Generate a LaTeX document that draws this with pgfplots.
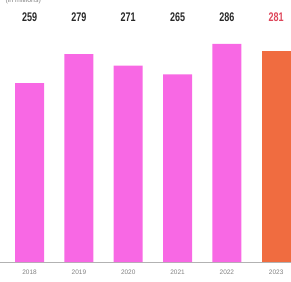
\documentclass[border=0pt]{standalone}
\usepackage{fontspec}
\setmainfont{Liberation Sans}
\newfontfamily\cond[FakeStretch=0.72]{Liberation Sans}
\usepackage{pgfplots}
\pgfplotsset{compat=1.18}
\definecolor{barpink}{RGB}{248,104,228}
\definecolor{barorange}{RGB}{240,108,64}
\definecolor{labred}{RGB}{222,70,90}
\definecolor{labdark}{RGB}{40,40,40}
\begin{document}
\begin{tikzpicture}
\useasboundingbox (0,0) rectangle (291pt,281pt);
\begin{axis}[
  at={(0,19pt)}, anchor=south west,
  scale only axis, width=291pt, height=257pt,
  xmin=-0.6, xmax=5.3, ymin=135.6, ymax=312.8,
  axis y line=none, axis x line*=bottom,
  x axis line style={draw=gray!60, line width=0.8pt, -},
  xtick={0,1,2,3,4,5},
  xticklabels={2018,2019,2020,2021,2022,2023},
  xticklabel style={font=\fontsize{6.5}{6.5}\selectfont, text=gray, yshift=-4pt},
  major tick length=0pt,
  ybar, bar width=29pt, bar shift=0pt,
  clip=false,
]
\addplot[fill=barpink, draw=none] coordinates {(0,259) (1,279) (2,271) (3,265) (4,286)};
\addplot[fill=barorange, draw=none] coordinates {(5,281)};
\addplot[draw=none, mark=none, nodes near coords, point meta=explicit symbolic,
  every node near coord/.style={anchor=center, text=labdark, font=\fontsize{12.5}{12.5}\cond\bfseries}]
  coordinates {(0,304.6)[259] (1,304.6)[279] (2,304.6)[271] (3,304.6)[265] (4,304.6)[286]};
\addplot[draw=none, mark=none, nodes near coords, point meta=explicit symbolic,
  every node near coord/.style={anchor=center, text=labred, font=\fontsize{12.5}{12.5}\cond\bfseries}]
  coordinates {(5,304.6)[281]};
\end{axis}
\node[anchor=north west, text=gray, font=\fontsize{7}{7}\selectfont] at (2pt,287pt) {(in millions)};
\end{tikzpicture}
\end{document}
